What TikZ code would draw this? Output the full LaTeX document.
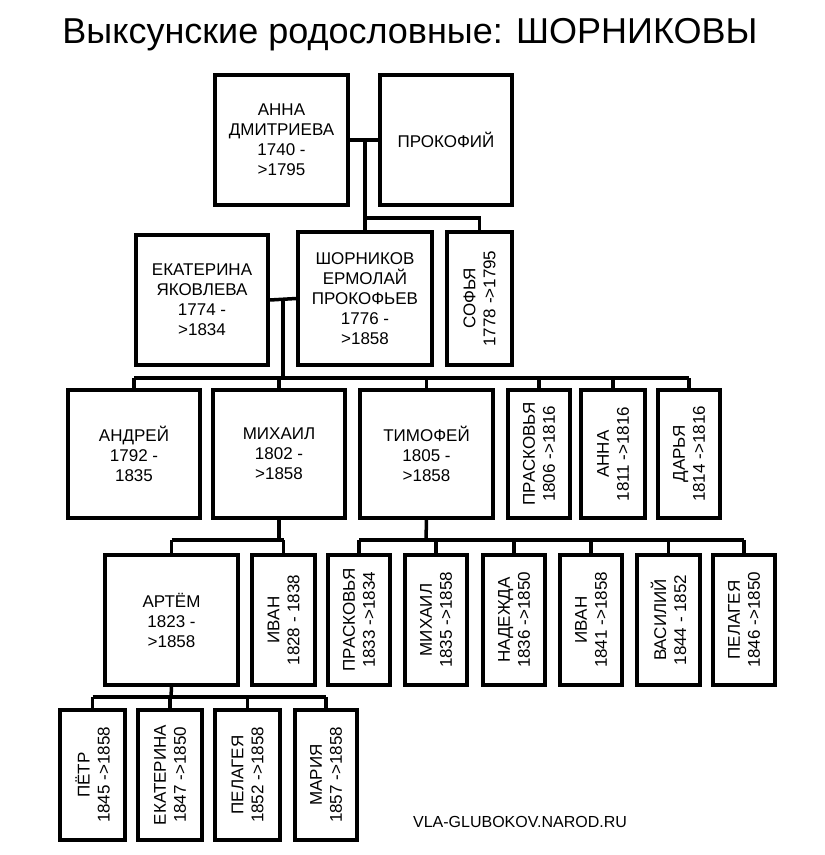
\documentclass[tikz,border=0pt]{standalone}
\usepackage{fontspec}
\setmainfont{Liberation Sans}
\usetikzlibrary{positioning, calc}

\tikzset{
    person/.style={draw, line width=3.5pt, fill=white, align=center, inner sep=0pt, font=\fontsize{17}{20}\selectfont},
    link/.style={line width=3.5pt}
}
% person box from its corners (x1,y1)-(x2,y2)
\newcommand{\pers}[6]{\node[person, minimum width={#4-#2}, minimum height={#5-#3}] (#1) at ({(#2+#4)/2},{(#3+#5)/2}) {#6};}
% narrow box with text turned upwards
\newcommand{\persr}[6]{\node[person, rotate=90, minimum width={#5-#3}, minimum height={#4-#2}] (#1) at ({(#2+#4)/2},{(#3+#5)/2}) {#6};}

\begin{document}
\begin{tikzpicture}[x=1pt, y=-1pt]
\useasboundingbox (0,0) rectangle (825,855);

% --- title ---
\node[font=\fontsize{36}{40}\selectfont] (title) at (410,35) {Выксунские родословные: ШОРНИКОВЫ};

% --- generation 1 ---
\pers{anna}{215}{75}{348}{205}{АННА\\ДМИТРИЕВА\\1740 -\\>1795}
\pers{prok}{380}{75}{512}{205}{ПРОКОФИЙ}

% --- generation 2 ---
\pers{ekat}{136}{235}{268}{365}{ЕКАТЕРИНА\\ЯКОВЛЕВА\\1774 -\\>1834}
\pers{shorn}{298}{232}{432}{365}{ШОРНИКОВ\\ЕРМОЛАЙ\\ПРОКОФЬЕВ\\1776 -\\>1858}
\persr{sofya}{447}{232}{512}{365}{СОФЬЯ\\1778 ->1795}

% --- generation 3 ---
\pers{andrey}{68}{390}{200}{518}{АНДРЕЙ\\1792 -\\1835}
\pers{mikh}{213}{390}{345}{518}{МИХАИЛ\\1802 -\\>1858}
\pers{timof}{360}{390}{493}{518}{ТИМОФЕЙ\\1805 -\\>1858}
\persr{prask}{508}{390}{570}{518}{ПРАСКОВЬЯ\\1806 ->1816}
\persr{annab}{581}{390}{645}{518}{АННА\\1811 ->1816}
\persr{darya}{658}{390}{720}{518}{ДАРЬЯ\\1814 ->1816}

% --- generation 4 ---
\pers{artem}{105}{555}{238}{685}{АРТЁМ\\1823 -\\>1858}
\persr{ivana}{252}{555}{315}{685}{ИВАН\\1828 - 1838}
\persr{praskb}{328}{555}{390}{685}{ПРАСКОВЬЯ\\1833 ->1834}
\persr{mikhb}{405}{555}{467}{685}{МИХАИЛ\\1835 ->1858}
\persr{nadezh}{483}{555}{545}{685}{НАДЕЖДА\\1836 ->1850}
\persr{ivanb}{560}{555}{622}{685}{ИВАН\\1841 ->1858}
\persr{vasil}{637}{555}{700}{685}{ВАСИЛИЙ\\1844 - 1852}
\persr{pelag}{713}{555}{775}{685}{ПЕЛАГЕЯ\\1846 ->1850}

% --- generation 5 ---
\persr{petr}{60}{710}{125}{840}{ПЁТР\\1845 ->1858}
\persr{ekatb}{138}{710}{202}{840}{ЕКАТЕРИНА\\1847 ->1850}
\persr{pelagb}{215}{710}{280}{840}{ПЕЛАГЕЯ\\1852 ->1858}
\persr{maria}{295}{710}{357}{840}{МАРИЯ\\1857 ->1858}

\node[font=\fontsize{16}{18}\selectfont] (site) at (520,822) {VLA-GLUBOKOV.NAROD.RU};

% --- connectors ---
\coordinate (m1) at (365,140);
\coordinate (b1) at (365,218);
\draw[link] (anna.east) -- (prok.west);
\draw[link] (m1) -- (shorn.north);
\draw[link] (b1) -| (sofya.east);

\coordinate (m2) at (283,298);
\coordinate (b2) at (283,378);
\draw[link] (ekat.east) -- (shorn.west);
\draw[link] (m2) -- (b2);
\draw[link] (b2 -| andrey.north) -- (b2 -| darya.west);
\foreach \c/\a in {andrey/north, mikh/north, timof/north, prask/east, annab/east, darya/east}
    \draw[link] (b2 -| \c.\a) -- (\c.\a);

\coordinate (b3) at (279,540);
\draw[link] (mikh.south) -- (b3);
\draw[link] (b3 -| artem.north) -- (b3 -| ivana.east);
\draw[link] (b3 -| artem.north) -- (artem.north);
\draw[link] (b3 -| ivana.east) -- (ivana.east);

\coordinate (b4) at (426,540);
\draw[link] (timof.south) -- (b4);
\draw[link] (b4 -| praskb.east) -- (b4 -| pelag.east);
\foreach \c in {praskb, mikhb, nadezh, ivanb, vasil, pelag}
    \draw[link] (b4 -| \c.east) -- (\c.east);

\coordinate (b5) at (171,697);
\draw[link] (artem.south) -- (b5);
\draw[link] (b5 -| petr.east) -- (b5 -| maria.east);
\foreach \c in {petr, ekatb, pelagb, maria}
    \draw[link] (b5 -| \c.east) -- (\c.east);

\end{tikzpicture}
\end{document}
